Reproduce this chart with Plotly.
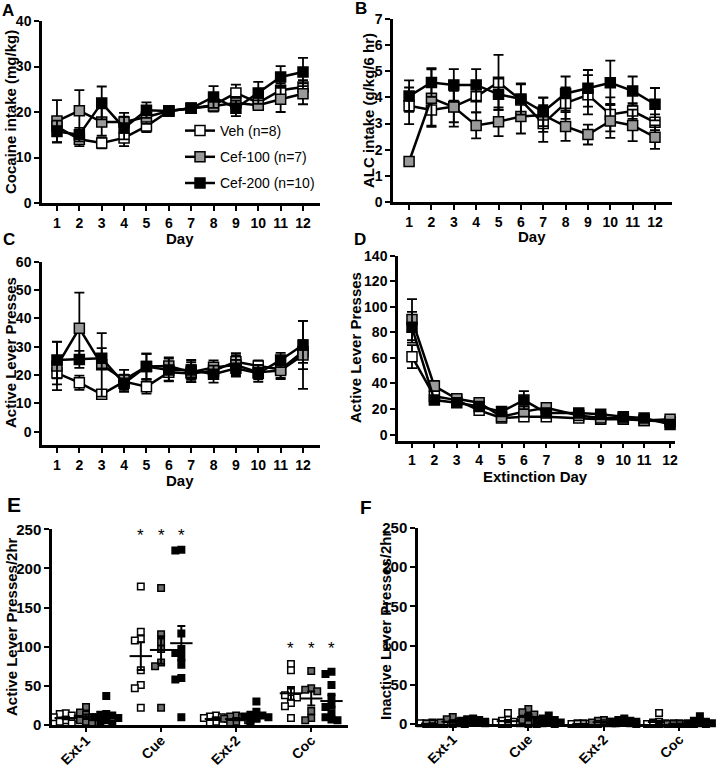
import numpy as np
import plotly.graph_objects as go

FONT = "Liberation Sans, Arial, Helvetica, sans-serif"

groups = ["Veh (n=8)", "Cef-100 (n=7)", "Cef-200 (n=10)"]
days = list(range(1, 13))
day_labels = [str(d) for d in days]

# ---- Panel A: cocaine intake (mg/kg), mean and SEM
coc_veh = [16.8, 14.0, 13.2, 14.3, 16.9, 20.2, 20.8, 21.5, 24.2, 22.0, 24.8, 25.5]
coc_c100 = [18.0, 20.3, 17.8, 17.8, 18.9, 20.2, 20.8, 21.3, 22.0, 21.5, 22.8, 24.0]
coc_c200 = [15.7, 15.0, 22.0, 16.5, 20.4, 20.2, 20.8, 23.3, 20.8, 24.2, 27.7, 28.8]
coc_veh_sem = [1.8, 1.5, 1.2, 1.8, 1.3, 0.8, 0.8, 1.3, 1.8, 1.5, 1.5, 1.5]
coc_c100_sem = [4.6, 4.5, 3.0, 2.0, 1.5, 0.8, 0.8, 1.2, 1.3, 1.0, 2.8, 2.3]
coc_c200_sem = [2.4, 1.5, 3.6, 2.5, 1.7, 0.8, 1.0, 2.4, 1.7, 2.4, 2.4, 3.1]

# ---- Panel B: ALC intake (g/kg/6 hr)
alc_veh = [3.68, 3.52, 3.65, 4.03, 4.58, 3.90, 3.00, 3.78, 4.10, 3.35, 3.48, 3.05]
alc_c100 = [1.55, 3.97, 3.63, 2.93, 3.07, 3.27, 3.33, 2.89, 2.58, 3.10, 2.93, 2.48]
alc_c200 = [4.05, 4.57, 4.48, 4.48, 4.12, 3.94, 3.45, 4.15, 4.35, 4.56, 4.25, 3.74]
alc_veh_sem = [0.70, 0.60, 0.60, 0.60, 1.05, 0.60, 0.70, 0.60, 0.75, 0.65, 0.30, 0.30]
alc_c100_sem = [0.15, 1.10, 0.75, 0.50, 0.55, 0.65, 0.65, 0.55, 0.38, 0.65, 0.60, 0.45]
alc_c200_sem = [0.60, 0.55, 0.60, 0.60, 0.60, 0.60, 0.55, 0.65, 0.70, 0.85, 0.55, 0.62]

# ---- Panel C: active lever presses during self-administration
alp_veh = [20.7, 17.3, 13.2, 17.7, 15.9, 21.0, 20.5, 21.5, 24.7, 23.2, 22.0, 28.3]
alp_c100 = [23.2, 36.5, 23.6, 18.3, 23.0, 23.2, 21.0, 22.7, 23.5, 21.0, 21.6, 27.1]
alp_c200 = [25.3, 25.5, 25.9, 17.1, 23.0, 21.8, 21.8, 20.3, 22.4, 20.6, 25.3, 30.6]
alp_veh_sem = [4.0, 2.5, 1.5, 2.0, 2.5, 3.0, 3.0, 2.5, 3.0, 2.0, 3.0, 4.0]
alp_c100_sem = [8.5, 12.6, 11.2, 3.5, 4.5, 3.0, 3.5, 2.5, 3.5, 2.5, 3.0, 12.0]
alp_c200_sem = [6.5, 3.0, 3.6, 3.0, 4.5, 4.0, 3.5, 3.0, 3.0, 3.0, 2.5, 8.5]

# ---- Panel D: active lever presses during extinction
ext_day_x = [1, 2, 3, 4, 5, 6, 7, 8.45, 9.43, 10.44, 11.37, 12.53]
ext_day_labels = [str(d) for d in range(1, 13)]
ext_veh = [61, 30, 27, 19, 13, 14, 14, 13, 12, 12, 11, 10]
ext_c100 = [90, 38, 28, 25, 14, 18, 21, 15, 13, 13, 11, 12]
ext_c200 = [84, 27, 25, 22, 18, 27, 17, 17, 16, 14, 13, 8]
ext_veh_sem = [9, 3, 2, 2, 2, 2, 2, 2, 2, 2, 2, 2]
ext_c100_sem = [16, 4, 3, 3, 2, 4, 3, 2, 2, 2, 2, 2]
ext_c200_sem = [12, 3, 3, 2, 2, 7, 2, 2, 2, 2, 2, 2]

# ---- Panels E/F: individual animals per session (Ext-1, Cue, Ext-2, Coc)
sessions = ["Ext-1", "Cue", "Ext-2", "Coc"]
active_veh = [[15, 14, 12, 10, 8, 6, 4, 2],
              [177, 119, 110, 108, 70, 51, 47, 22],
              [12, 11, 10, 9, 8, 6, 4, 2],
              [78, 70, 42, 38, 35, 28, 24, 9]]
active_c100 = [[23, 16, 13, 10, 6, 4, 2],
               [175, 116, 106, 97, 80, 75, 22],
               [12, 11, 10, 8, 6, 4, 2],
               [69, 47, 45, 43, 18, 9, 6]]
active_c200 = [[37, 14, 13, 12, 10, 9, 8, 6, 4, 2],
               [224, 223, 117, 97, 92, 87, 77, 60, 58, 10],
               [30, 17, 13, 12, 11, 10, 9, 8, 6, 5],
               [68, 65, 51, 36, 25, 23, 15, 10, 7, 6]]
active_star_y = [None, 247, None, 103]

inactive_veh = [[2, 1, 1, 1, 0, 0, 0, 0],
                [14, 5, 4, 3, 2, 1, 0, 0],
                [1, 1, 0, 0, 0, 0, 0, 0],
                [14, 3, 2, 1, 0, 0, 0, 0]]
inactive_c100 = [[9, 6, 3, 2, 1, 0, 0],
                 [19, 15, 12, 9, 5, 3, 0],
                 [5, 4, 3, 2, 1, 1, 0],
                 [1, 1, 0, 0, 0, 0, 0]]
inactive_c200 = [[7, 6, 5, 4, 3, 3, 2, 2, 1, 1],
                 [11, 7, 5, 4, 3, 2, 2, 1, 0, 0],
                 [7, 5, 4, 3, 3, 2, 2, 1, 1, 0],
                 [10, 4, 3, 2, 1, 1, 1, 0, 0, 0]]

# ------------------------------------------------------------------
W, H = 716, 770
FILLS = ["white", "#9a9a9a", "black"]
FILLS_E = ["white", "#6f6f6f", "black"]
GROUP_OFF = [-0.27, 0.0, 0.27]


def X(p):
    return p / W


def Y(p):
    return 1 - p / H


def tfont(size=14):
    return dict(family=FONT, size=size, color="black", weight="bold")


fig = go.Figure()


def add_axes(n, xdom, ydom, xrange, yrange, xtickvals, xticktext, ytickvals,
             tickangle=0, tsize=14, xtsize=None, xticklen=5, xstandoff=0):
    sfx = "" if n == 1 else str(n)
    common = dict(showline=True, linewidth=2.5, linecolor="black", ticks="outside",
                  tickwidth=2, tickcolor="black", showgrid=False, automargin=False,
                  zeroline=False, fixedrange=True)
    fig.update_layout(**{
        "xaxis" + sfx: dict(domain=[X(xdom[0]), X(xdom[1])], range=xrange,
                            anchor="y" + sfx, tickmode="array", tickvals=xtickvals,
                            ticktext=xticktext, tickangle=tickangle, ticklen=xticklen,
                            ticklabelstandoff=xstandoff,
                            tickfont=tfont(xtsize or tsize), **common),
        "yaxis" + sfx: dict(domain=[Y(ydom[0]), Y(ydom[1])], range=yrange,
                            anchor="x" + sfx, tickmode="array", tickvals=ytickvals,
                            ticklen=5, tickfont=tfont(tsize), **common),
    })


def add_line_panel(n, x, means, sems, legend=False):
    sfx = "" if n == 1 else str(n)
    for g in range(3):
        fig.add_trace(go.Scatter(
            x=x, y=means[g], mode="lines+markers",
            error_y=dict(type="data", array=sems[g], visible=True, color="black",
                         thickness=1.8, width=5),
            line=dict(color="black", width=2.5),
            marker=dict(symbol="square", size=10, color=FILLS[g],
                        line=dict(color="black", width=1.5)),
            name=groups[g], legendgroup=groups[g], showlegend=legend,
            xaxis="x" + sfx, yaxis="y" + sfx, cliponaxis=False))


def swarm(vals, ypu, step=6.0):
    placed = []
    offs = []
    cands = [0, -step, step, -2 * step, 2 * step]
    for v in vals:
        y = v * ypu
        best, best_hits = 0, None
        for c in cands:
            hits = sum(1 for (px, py) in placed if abs(c - px) < step and abs(y - py) < step)
            if best_hits is None or hits < best_hits:
                best, best_hits = c, hits
            if hits == 0:
                break
        placed.append((best, y))
        offs.append(best)
    return offs


def add_scatter_panel(n, data, ypu, xpc, star_y=None):
    sfx = "" if n == 1 else str(n)
    for g in range(3):
        for si, vals in enumerate(data[g]):
            offs = swarm(vals, ypu)
            xs = [si + GROUP_OFF[g] + o / xpc for o in offs]
            fig.add_trace(go.Scatter(
                x=xs, y=vals, mode="markers",
                marker=dict(symbol="square", size=6.5, color=FILLS_E[g],
                            line=dict(color="black", width=1.5)),
                showlegend=False, xaxis="x" + sfx, yaxis="y" + sfx, cliponaxis=False))
            m = float(np.mean(vals))
            se = float(np.std(vals, ddof=1) / np.sqrt(len(vals)))
            fig.add_trace(go.Scatter(
                x=[si + GROUP_OFF[g]], y=[m], mode="markers",
                marker=dict(symbol="line-ew", size=16, color="black",
                            line=dict(color="black", width=2)),
                error_y=dict(type="data", array=[se], visible=True, color="black",
                             thickness=2, width=4),
                showlegend=False, xaxis="x" + sfx, yaxis="y" + sfx, cliponaxis=False))
    if star_y:
        for si, sy in enumerate(star_y):
            if sy is None:
                continue
            for g in range(3):
                fig.add_annotation(x=si + GROUP_OFF[g], y=sy, xref="x" + sfx, yref="y" + sfx,
                                   text="*", showarrow=False, yshift=-4,
                                   font=dict(family=FONT, size=17, color="black"))


# Panel A
add_axes(1, (42, 320), (203, 21), [0.33, 12.76], [0, 40], days, day_labels, [0, 10, 20, 30, 40])
add_line_panel(1, days, [coc_veh, coc_c100, coc_c200],
               [coc_veh_sem, coc_c100_sem, coc_c200_sem], legend=True)
# Panel B
add_axes(2, (393, 672), (202, 19), [0.28, 12.76], [0, 7], days, day_labels, list(range(0, 8)))
add_line_panel(2, days, [alc_veh, alc_c100, alc_c200], [alc_veh_sem, alc_c100_sem, alc_c200_sem])
# Panel C
add_axes(3, (42, 320), (445, 261.7), [0.33, 12.76], [-4.7, 60], days, day_labels,
         [0, 10, 20, 30, 40, 50, 60])
add_line_panel(3, days, [alp_veh, alp_c100, alp_c200], [alp_veh_sem, alp_c100_sem, alp_c200_sem])
# Panel D
add_axes(4, (398, 675), (441, 255.7), [0.375, 12.75], [-5, 140], ext_day_x, ext_day_labels,
         [0, 20, 40, 60, 80, 100, 120, 140], xticklen=4)
add_line_panel(4, ext_day_x, [ext_veh, ext_c100, ext_c200], [ext_veh_sem, ext_c100_sem, ext_c200_sem])
# Panel E
add_axes(5, (52, 348), (725, 529.3), [-0.453, 3.49], [0, 250], [0, 1, 2, 3], sessions,
         [0, 50, 100, 150, 200, 250], tickangle=-45, tsize=15, xtsize=14, xticklen=4,
         xstandoff=-5)
add_scatter_panel(5, [active_veh, active_c100, active_c200], 0.783, 75, active_star_y)
# Panel F
add_axes(6, (418, 715), (724, 528), [-0.46, 3.47], [0, 250], [0, 1, 2, 3], sessions,
         [0, 50, 100, 150, 200, 250], tickangle=-45, tsize=15, xtsize=14, xticklen=4,
         xstandoff=-5)
add_scatter_panel(6, [inactive_veh, inactive_c100, inactive_c200], 0.784, 75.5)


def label(text, x, y, size=15, angle=0, bold=True):
    fig.add_annotation(x=X(x), y=Y(y), xref="paper", yref="paper", text=text,
                       showarrow=False, textangle=angle, xanchor="center", yanchor="middle",
                       font=dict(family=FONT, size=size, color="black",
                                 weight="bold" if bold else "normal"))


# panel letters
label("A", 8, 11, 17)
label("B", 361, 9, 17)
label("C", 9, 239, 17)
label("D", 360, 239, 17)
label("E", 14, 504, 21)
label("F", 366, 507, 19)

# axis titles
label("Cocaine intake (mg/kg)", 10, 112, 15, -90)
label("ALC intake (g/kg/6 hr)", 368, 111, 15, -90)
label("Active Lever Presses", 10, 353, 15, -90)
label("Active Lever Presses", 356, 348, 15, -90)
label("Active Lever Presses/2hr", 11, 627, 15, -90)
label("Inactive Lever Presses/2hr", 385, 626, 15, -90)
label("Day", 180, 238, 15)
label("Day", 532, 236, 15)
label("Day", 180, 480, 15)
label("Extinction Day", 535, 476, 15)

fig.update_layout(
    width=W, height=H, margin=dict(l=0, r=0, t=0, b=0, autoexpand=False),
    paper_bgcolor="white", plot_bgcolor="white",
    showlegend=True,
    legend=dict(x=X(180), y=Y(115), xanchor="left", yanchor="top",
                bgcolor="rgba(0,0,0,0)", borderwidth=0, tracegroupgap=5,
                traceorder="grouped", itemwidth=30,
                font=dict(family=FONT, size=14, color="black")),
)

fig.write_html("out.html",
               config={"displayModeBar": False},
               post_script="document.body.style.margin='0px';"
                           "document.body.style.overflow='hidden';")
